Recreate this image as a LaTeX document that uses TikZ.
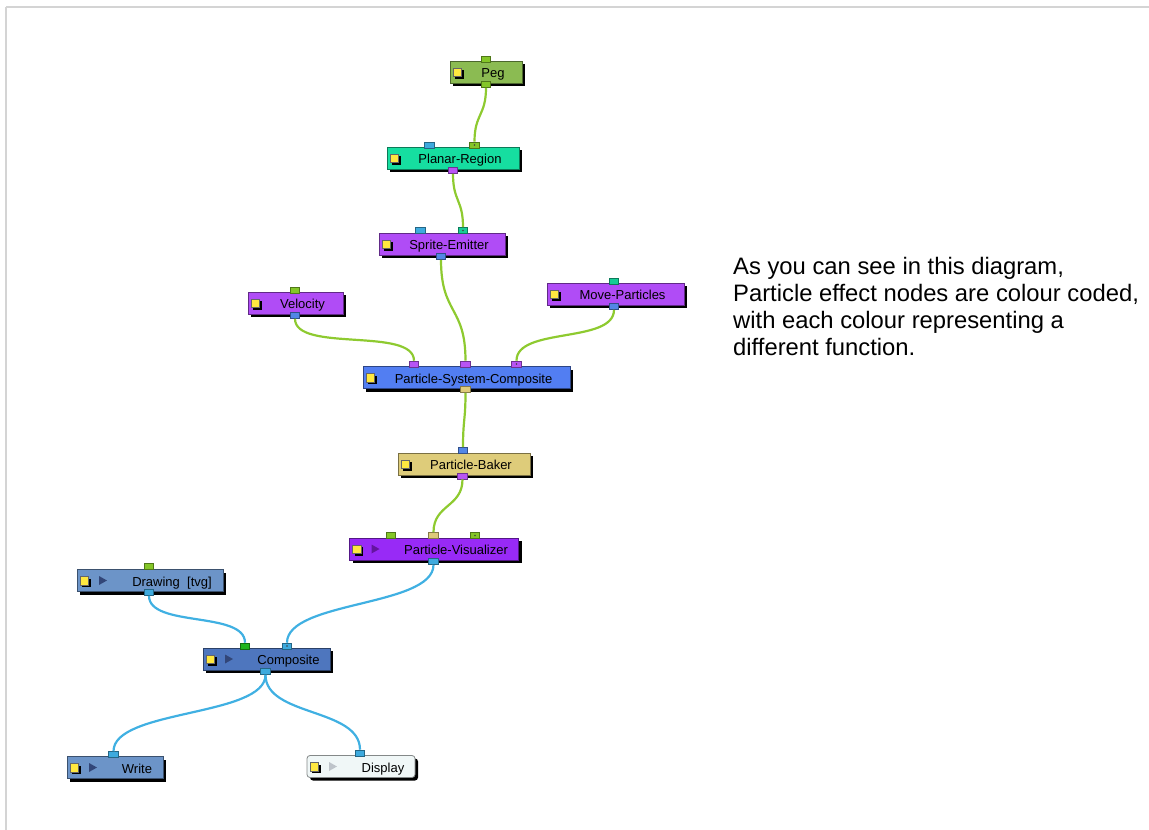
\documentclass[tikz,border=0pt]{standalone}
\usepackage{fontspec}
\setmainfont{Liberation Sans}
\usepackage{xcolor}
\usepackage{tikz}
\usetikzlibrary{shapes,arrows.meta,positioning,calc,shadows}

\definecolor{pegc}{RGB}{139,187,82}
\definecolor{regionc}{RGB}{22,222,160}
\definecolor{emitc}{RGB}{176,76,246}
\definecolor{psysc}{RGB}{82,126,242}
\definecolor{bakec}{RGB}{222,204,122}
\definecolor{visc}{RGB}{152,42,246}
\definecolor{drawc}{RGB}{108,148,200}
\definecolor{compc}{RGB}{78,118,190}
\definecolor{dispc}{RGB}{240,247,247}
\definecolor{iconc}{RGB}{255,232,64}
\definecolor{pgreen}{RGB}{132,198,40}
\definecolor{pblue}{RGB}{82,134,230}
\definecolor{pcyan}{RGB}{62,170,222}
\definecolor{pteal}{RGB}{22,204,150}
\definecolor{ppurple}{RGB}{184,84,244}
\definecolor{ptan}{RGB}{222,202,122}
\definecolor{pdgreen}{RGB}{30,180,30}
\definecolor{wireg}{RGB}{142,202,48}
\definecolor{wireb}{RGB}{64,176,226}
\definecolor{framec}{RGB}{212,212,212}
\definecolor{playv}{RGB}{100,20,160}
\definecolor{playb}{RGB}{50,70,120}
\definecolor{playd}{RGB}{190,196,202}

% yellow enable box at the left end of every node
\newcommand{\nodeicon}{%
  \fill[black, sharp corners] ([xshift=5pt,yshift=-6.5pt]path picture bounding box.west) rectangle +(8.5pt,8.5pt);
  \filldraw[draw=black!60, fill=iconc, sharp corners] ([xshift=3pt,yshift=-4.5pt]path picture bounding box.west) rectangle +(8.5pt,8.5pt);}

\begin{document}
\begin{tikzpicture}[
    x=1pt, y=-1pt,
    fx/.style={rectangle, draw=#1!55!black, fill=#1, line width=0.8pt, minimum height=22pt, inner sep=0pt,
      text height=11pt, text depth=0pt,
      font=\fontsize{13}{15}\selectfont, execute at begin node={\hspace*{14pt}},
      drop shadow={shadow xshift=3pt, shadow yshift=-3pt, fill=black, opacity=1},
      path picture={\nodeicon}},
    fxp/.style 2 args={fx=#1, execute at begin node={\hspace*{30pt}},
      path picture={\nodeicon
        \fill[#2, sharp corners] ([xshift=22pt,yshift=-4.5pt]path picture bounding box.west) -- ++(8pt,4.5pt) -- ++(-8pt,4.5pt) -- cycle;}},
    port/.style={rectangle, draw=#1!60!black, fill=#1, line width=0.6pt, minimum width=9.5pt, minimum height=6pt, inner sep=0pt},
    dport/.style={port=#1, path picture={\fill[black!75] (path picture bounding box.center) circle (0.9pt);}},
    gwire/.style={draw=wireg, line width=2.2pt},
    bwire/.style={draw=wireb, line width=2.2pt}
]
    \useasboundingbox (0,0) rectangle (1149,830);
    \draw[framec, line width=2pt] (6,7) -- (1149,7);
    \draw[framec, line width=2pt] (6,7) -- (6,830);

    % nodes
    \node[fx=pegc, minimum width=72pt] (peg) at (486,72) {Peg};
    \node[fx=regionc, minimum width=132pt] (plr) at (453,158) {Planar-Region};
    \node[fx=emitc, minimum width=126pt] (emit) at (442,244) {Sprite-Emitter};
    \node[fx=emitc, minimum width=95pt] (vel) at (295.5,303) {Velocity};
    \node[fx=emitc, minimum width=137pt] (move) at (615.5,294) {Move-Particles};
    \node[fx=psysc, minimum width=207pt] (psc) at (466.5,377.5) {Particle-System-Composite};
    \node[fx=bakec, minimum width=132pt] (bake) at (464,464) {Particle-Baker};
    \node[fxp={visc}{playv}, minimum width=169pt] (vis) at (434,549) {Particle-Visualizer};
    \node[fxp={drawc}{playb}, minimum width=146pt] (drw) at (150,580.5) {Drawing\ \ [tvg]};
    \node[fxp={compc}{playb}, minimum width=127pt] (comp) at (266.5,659) {Composite};
    \node[fxp={drawc}{playb}, minimum width=96pt] (write) at (115,767.5) {Write};
    \node[fxp={dispc}{playd}, minimum width=108pt, rounded corners=3pt] (disp) at (361,766.5) {Display};

    % ports
    \node[port=pgreen] (peg-i) at (486,59) {};
    \node[port=pgreen] (peg-o) at (486,84.5) {};
    \node[port=pcyan] (plr-i1) at (429.5,145) {};
    \node[dport=pgreen] (plr-i2) at (474.5,145) {};
    \node[port=ppurple] (plr-o) at (453,170.5) {};
    \node[port=pcyan] (emit-i1) at (420.5,230.5) {};
    \node[dport=pteal] (emit-i2) at (463,230.5) {};
    \node[port=pblue] (emit-o) at (441,256.5) {};
    \node[port=pgreen] (vel-i) at (295,290) {};
    \node[port=pblue] (vel-o) at (295,315.5) {};
    \node[port=pteal] (move-i) at (614,281) {};
    \node[port=pblue] (move-o) at (614,306.5) {};
    \node[port=ppurple] (psc-i1) at (414,364) {};
    \node[port=ppurple] (psc-i2) at (465.5,364) {};
    \node[dport=ppurple] (psc-i3) at (516.5,364) {};
    \node[port=ptan] (psc-o) at (465.5,389.5) {};
    \node[port=pblue] (bake-i) at (463,450.5) {};
    \node[port=ppurple] (bake-o) at (462.5,476) {};
    \node[port=pgreen] (vis-i1) at (391,535.5) {};
    \node[port=ptan] (vis-i2) at (433.5,535.5) {};
    \node[dport=pgreen] (vis-i3) at (475,535.5) {};
    \node[port=pcyan] (vis-o) at (433.5,561.5) {};
    \node[port=pgreen] (drw-i) at (149,566.5) {};
    \node[port=pcyan] (drw-o) at (149,592.5) {};
    \node[port=pdgreen] (comp-i1) at (245,646) {};
    \node[dport=pcyan] (comp-i2) at (287,646) {};
    \node[port=pcyan] (comp-o) at (265.5,671.5) {};
    \node[port=pcyan] (write-i) at (113.5,754.5) {};
    \node[port=pcyan] (disp-i) at (360,753) {};

    % wires
    \draw[gwire] (peg-o.south) .. controls +(0,28) and +(0,-28) .. (plr-i2.north);
    \draw[gwire] (plr-o.south) .. controls +(0,28) and +(0,-28) .. (emit-i2.north);
    \draw[gwire] (emit-o.south) .. controls +(0,55) and +(0,-55) .. (psc-i2.north);
    \draw[gwire] (vel-o.south) .. controls +(0,34) and +(0,-34) .. (psc-i1.north);
    \draw[gwire] (move-o.south) .. controls +(0,34) and +(0,-34) .. (psc-i3.north);
    \draw[gwire] (psc-o.south) .. controls +(0,28) and +(0,-28) .. (bake-i.north);
    \draw[gwire] (bake-o.south) .. controls +(0,28) and +(0,-28) .. (vis-i2.north);
    \draw[bwire] (vis-o.south) .. controls +(0,42) and +(0,-42) .. (comp-i2.north);
    \draw[bwire] (drw-o.south) .. controls +(0,32) and +(0,-32) .. (comp-i1.north);
    \draw[bwire] (comp-o.south) .. controls +(0,42) and +(0,-42) .. (write-i.north);
    \draw[bwire] (comp-o.south) .. controls +(0,42) and +(0,-42) .. (disp-i.north);

    % side note
    \node[anchor=north west, align=left, inner sep=0pt, font=\fontsize{23.8}{27}\selectfont] (note) at (733,257)
      {As you can see in this diagram,\\Particle effect nodes are colour coded,\\with each colour representing a\\different function.};
\end{tikzpicture}
\end{document}
